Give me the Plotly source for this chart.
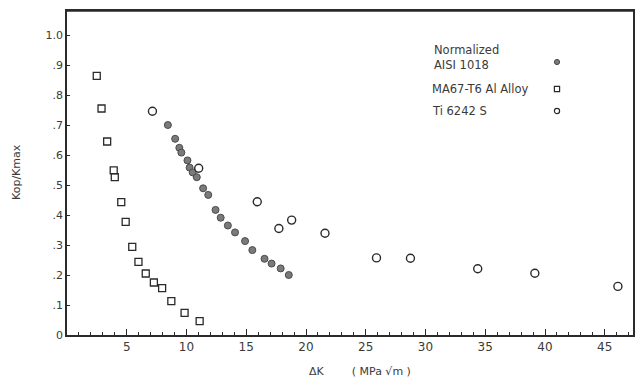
import plotly.graph_objects as go

# AISI 1018 (normalized) - filled circles
aisi_x = [8.44, 9.05, 9.4, 9.57, 10.08, 10.26, 10.52, 10.86, 11.39, 11.82, 12.43, 12.86, 13.46, 14.06, 14.9, 15.51, 16.53, 17.12, 17.88, 18.56]
aisi_y = [0.70, 0.654, 0.624, 0.608, 0.582, 0.558, 0.542, 0.526, 0.489, 0.467, 0.417, 0.391, 0.365, 0.342, 0.313, 0.283, 0.254, 0.238, 0.222, 0.20]

# MA67-T6 Al Alloy - open squares
ma_x = [2.49, 2.89, 3.36, 3.91, 4.0, 4.54, 4.91, 5.46, 5.98, 6.59, 7.27, 7.96, 8.73, 9.84, 11.1]
ma_y = [0.864, 0.755, 0.645, 0.549, 0.526, 0.443, 0.377, 0.294, 0.244, 0.205, 0.175, 0.156, 0.113, 0.074, 0.046]

# Ti 6242S - open circles
ti_x = [7.15, 11.02, 15.92, 17.73, 18.8, 21.59, 25.9, 28.74, 34.37, 39.15, 46.1]
ti_y = [0.746, 0.556, 0.444, 0.355, 0.383, 0.339, 0.257, 0.256, 0.221, 0.206, 0.162]

y_tickvals = [0, 0.1, 0.2, 0.3, 0.4, 0.5, 0.6, 0.7, 0.8, 0.9, 1.0]
y_ticktext = ["0", ".1", ".2", ".3", ".4", ".5", ".6", ".7", ".8", ".9", "1.0"]
x_tickvals = [5, 10, 15, 20, 25, 30, 35, 40, 45]

legend_labels = ["Normalized<br>AISI 1018", "MA67-T6 Al Alloy", "Ti 6242 S"]
x_title = "ΔK&nbsp;&nbsp;&nbsp;&nbsp;&nbsp;&nbsp;&nbsp;&nbsp;( MPa √m )"
y_title = "Kop/Kmax"

txt = "#3a3a3a"
ink = "#2a2a2a"
fam = "DejaVu Sans, Liberation Sans, Arial"

# the page body has an 8px margin; keep the figure inside the window (no scrollbars)
OFF = 8
W, H = 643 - 2 * OFF, 388 - 2 * OFF
L, T = 67 - OFF, 3
R = 2
B = H - (335 - OFF)
PW, PH = W - L - R, H - T - B

def px(x):  # page pixel x -> paper
    return (x - OFF - L) / PW

def py(y):  # page pixel y -> paper
    return 1 - (y - OFF - T) / PH

fig = go.Figure()
fig.add_trace(go.Scatter(x=aisi_x, y=aisi_y, mode="markers", name=legend_labels[0],
                         marker=dict(symbol="circle", size=7, color="#7a7a7a",
                                     line=dict(color="#4a4a4a", width=1))))
fig.add_trace(go.Scatter(x=ma_x, y=ma_y, mode="markers", name=legend_labels[1],
                         marker=dict(symbol="square-open", size=7, color=ink,
                                     line=dict(width=1.3))))
fig.add_trace(go.Scatter(x=ti_x, y=ti_y, mode="markers", name=legend_labels[2],
                         marker=dict(symbol="circle-open", size=8, color=ink,
                                     line=dict(width=1.4))))

# legend text
fig.add_annotation(x=px(432), y=py(58), xref="paper", yref="paper", text=legend_labels[0],
                   showarrow=False, xanchor="left", yanchor="middle", align="left",
                   font=dict(size=11.5, color=txt, family=fam))
fig.add_annotation(x=px(430), y=py(89), xref="paper", yref="paper", text=legend_labels[1],
                   showarrow=False, xanchor="left", yanchor="middle", align="left",
                   font=dict(size=11.5, color=txt, family=fam))
fig.add_annotation(x=px(430), y=py(111), xref="paper", yref="paper", text=legend_labels[2],
                   showarrow=False, xanchor="left", yanchor="middle", align="left",
                   font=dict(size=11.5, color=txt, family=fam))

# axis titles
fig.add_annotation(x=px(360), y=0, xref="paper", yref="paper", text=x_title,
                   showarrow=False, xanchor="center", yanchor="bottom", yshift=-B,
                   font=dict(size=11, color=txt, family=fam))
fig.add_annotation(x=px(16), y=py(172), xref="paper", yref="paper", text=y_title,
                   showarrow=False, xanchor="center", yanchor="middle", textangle=-90,
                   font=dict(size=11, color=txt, family=fam))

# top frame line
fig.add_shape(type="line", xref="paper", yref="paper", x0=0, x1=1, y0=1, y1=1,
              line=dict(color=ink, width=1.5), layer="above")

def sym(cx, cy, kind):
    w = 2.6 / PW
    h = 2.6 / PH
    if kind == "sq":
        fig.add_shape(type="rect", xref="paper", yref="paper",
                      x0=cx - w, x1=cx + w, y0=cy - h, y1=cy + h,
                      line=dict(color=ink, width=1.2))
    elif kind == "fill":
        fig.add_shape(type="circle", xref="paper", yref="paper",
                      x0=cx - w, x1=cx + w, y0=cy - h, y1=cy + h,
                      line=dict(color="#4a4a4a", width=1), fillcolor="#7a7a7a")
    else:
        fig.add_shape(type="circle", xref="paper", yref="paper",
                      x0=cx - w, x1=cx + w, y0=cy - h, y1=cy + h,
                      line=dict(color=ink, width=1.2))

sym(px(557), py(62), "fill")
sym(px(557), py(89), "sq")
sym(px(557), py(111), "open")

fig.update_layout(
    width=W, height=H,
    margin=dict(l=L, r=R, t=T, b=B),
    paper_bgcolor="white", plot_bgcolor="white",
    showlegend=False,
    font=dict(family=fam, size=11, color=txt),
    xaxis=dict(range=[0, PW / 11.95], tickvals=x_tickvals, ticks="inside", ticklen=6, tickwidth=1,
               tickcolor=ink, showline=True, linecolor=ink, linewidth=1.5, mirror=True,
               showgrid=False, zeroline=False, tickfont=dict(size=12, color=txt),
               minor=dict(dtick=1, ticks="inside", ticklen=3, tickcolor=ink),
               automargin=False),
    yaxis=dict(range=[0, PH / 300.0], tickvals=y_tickvals, ticktext=y_ticktext, ticks="inside",
               ticklen=3, tickwidth=1, tickcolor=ink, showline=True, linecolor=ink,
               linewidth=1.5, mirror=True, showgrid=False, zeroline=False,
               tickfont=dict(size=11, color=txt), automargin=False),
)

fig.write_html("out.html")
